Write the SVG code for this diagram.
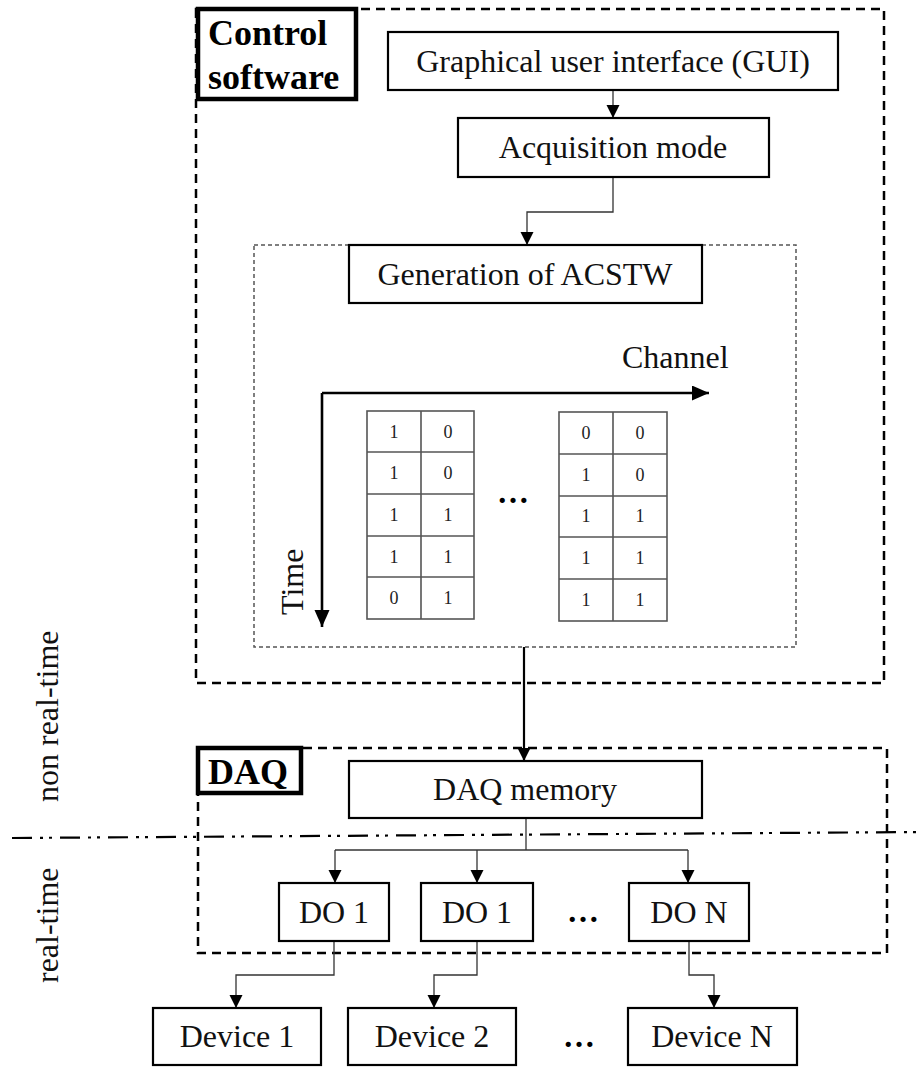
<svg xmlns="http://www.w3.org/2000/svg" width="921" height="1067" viewBox="0 0 921 1067">
<defs>
<style>
.t{font-family:"Liberation Serif","Times New Roman",serif;font-size:32px;fill:#111}
.b{font-family:"Liberation Serif","Times New Roman",serif;font-size:36px;font-weight:bold;fill:#000}
.n{font-family:"Liberation Serif","Times New Roman",serif;font-size:18px;fill:#222;text-anchor:middle}
.el{font-family:"Liberation Serif","Times New Roman",serif;font-size:32px;font-weight:bold;fill:#000;text-anchor:middle}
.box{fill:#fff;stroke:#000;stroke-width:2.2}
.lab{fill:#fff;stroke:#000;stroke-width:4.5}
.dash{fill:none;stroke:#000;stroke-width:2.5;stroke-dasharray:9 6}
.dot{fill:none;stroke:#555;stroke-width:1.5;stroke-dasharray:4 3}
.con{fill:none;stroke:#333;stroke-width:1.3}
.grid{fill:none;stroke:#555;stroke-width:1.6}
</style>
<marker id="ah" markerUnits="userSpaceOnUse" markerWidth="14" markerHeight="14" refX="13" refY="6.5" orient="auto">
<path d="M0,0 L13,6.5 L0,13 z" fill="#000"/>
</marker>
<marker id="ahb" markerUnits="userSpaceOnUse" markerWidth="18" markerHeight="16" refX="17" refY="7.5" orient="auto">
<path d="M0,0 L17,7.5 L0,15 z" fill="#000"/>
</marker>
</defs>
<rect width="921" height="1067" fill="#fff"/>

<g id="containers">
<rect class="dash" x="196" y="9" width="688" height="674"/>
<rect class="dot" x="254" y="245" width="542" height="402"/>
<rect class="dash" x="198" y="748" width="689" height="205"/>
<path d="M12,838 L921,832" fill="none" stroke="#000" stroke-width="2.2" stroke-dasharray="20 8 3 6 3 8"/>
</g>

<g id="label-control">
<rect class="lab" x="198" y="9" width="158" height="90"/>
<text class="b" x="208" y="45">Control</text>
<text class="b" x="208" y="89">software</text>
</g>
<g id="label-daq">
<rect class="lab" x="198" y="748" width="103" height="45"/>
<text class="b" x="208" y="784">DAQ</text>
</g>

<g id="side-labels">
<text class="t" transform="translate(58,802) rotate(-90)">non real-time</text>
<text class="t" transform="translate(58,983) rotate(-90)">real-time</text>
</g>

<g id="connectors">
<path class="con" d="M613,90 L613,118" marker-end="url(#ah)"/>
<path class="con" d="M613,177 L613,212 L527,212 L527,245" marker-end="url(#ah)"/>
<path d="M524,647 L524,761" fill="none" stroke="#000" stroke-width="2.2" marker-end="url(#ah)"/>
<path class="con" d="M526,818 L526,850"/>
<path class="con" d="M335,850 L688,850"/>
<path class="con" d="M335,850 L335,883" marker-end="url(#ah)"/>
<path class="con" d="M477,850 L477,883" marker-end="url(#ah)"/>
<path class="con" d="M688,850 L688,883" marker-end="url(#ah)"/>
<path class="con" d="M334,941 L334,975 L236,975 L236,1008" marker-end="url(#ah)"/>
<path class="con" d="M477,941 L477,975 L434,975 L434,1008" marker-end="url(#ah)"/>
<path class="con" d="M689,941 L689,975 L714,975 L714,1008" marker-end="url(#ah)"/>
</g>

<g id="gui">
<rect class="box" x="388" y="32" width="450" height="58"/>
<text class="t" x="613" y="72" text-anchor="middle">Graphical user interface (GUI)</text>
</g>
<g id="acq">
<rect class="box" x="458" y="118" width="311" height="59"/>
<text class="t" x="613" y="158" text-anchor="middle">Acquisition mode</text>
</g>
<g id="gen">
<rect class="box" x="349" y="245" width="353" height="58"/>
<text class="t" x="525" y="285" text-anchor="middle">Generation of ACSTW</text>
</g>

<g id="acstw-table">
<path d="M322,393 L709,393" fill="none" stroke="#000" stroke-width="2.6" marker-end="url(#ahb)"/>
<path d="M322,393 L322,627" fill="none" stroke="#000" stroke-width="2.6" marker-end="url(#ahb)"/>
<text class="t" x="622" y="368">Channel</text>
<text class="t" transform="translate(303,615) rotate(-90)">Time</text>
<rect class="grid" x="367" y="411" width="107" height="208"/>
<path class="grid" d="M421,411 V619 M367,452 H474 M367,494 H474 M367,536 H474 M367,577 H474"/>
<rect class="grid" x="559" y="412" width="108" height="209"/>
<path class="grid" d="M613,412 V621 M559,454 H667 M559,496 H667 M559,537 H667 M559,579 H667"/>
<text class="n" x="394" y="438">1</text><text class="n" x="448" y="438">0</text>
<text class="n" x="394" y="479">1</text><text class="n" x="448" y="479">0</text>
<text class="n" x="394" y="521">1</text><text class="n" x="448" y="521">1</text>
<text class="n" x="394" y="563">1</text><text class="n" x="448" y="563">1</text>
<text class="n" x="394" y="604">0</text><text class="n" x="448" y="604">1</text>
<text class="n" x="586" y="439">0</text><text class="n" x="640" y="439">0</text>
<text class="n" x="586" y="481">1</text><text class="n" x="640" y="481">0</text>
<text class="n" x="586" y="522">1</text><text class="n" x="640" y="522">1</text>
<text class="n" x="586" y="564">1</text><text class="n" x="640" y="564">1</text>
<text class="n" x="586" y="606">1</text><text class="n" x="640" y="606">1</text>
<text class="el" x="513" y="503">…</text>
</g>

<g id="daq-memory">
<rect class="box" x="349" y="761" width="353" height="57"/>
<text class="t" x="525" y="800" text-anchor="middle">DAQ memory</text>
</g>
<g id="do1">
<rect class="box" x="279" y="883" width="110" height="58"/>
<text class="t" x="334" y="923" text-anchor="middle">DO 1</text>
</g>
<g id="do2">
<rect class="box" x="421" y="883" width="112" height="58"/>
<text class="t" x="477" y="923" text-anchor="middle">DO 1</text>
</g>
<text class="el" x="583" y="922">…</text>
<g id="don">
<rect class="box" x="629" y="883" width="120" height="58"/>
<text class="t" x="689" y="923" text-anchor="middle">DO N</text>
</g>
<g id="dev1">
<rect class="box" x="153" y="1008" width="168" height="57"/>
<text class="t" x="237" y="1047" text-anchor="middle">Device 1</text>
</g>
<g id="dev2">
<rect class="box" x="348" y="1008" width="168" height="57"/>
<text class="t" x="432" y="1047" text-anchor="middle">Device 2</text>
</g>
<text class="el" x="579" y="1047">…</text>
<g id="devn">
<rect class="box" x="628" y="1008" width="169" height="57"/>
<text class="t" x="712" y="1047" text-anchor="middle">Device N</text>
</g>
</svg>
